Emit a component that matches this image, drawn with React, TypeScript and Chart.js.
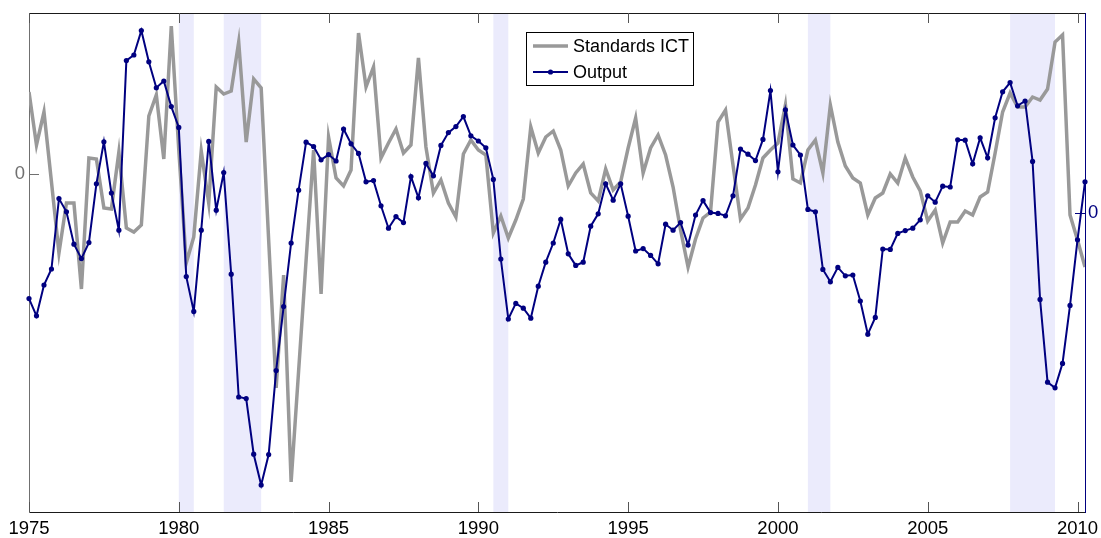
import React, { useEffect, useRef } from "react";
import { Chart, registerables } from "chart.js";

Chart.register(...registerables);

// ---- data ----
const START_YEAR = 1975;
const QUARTER = 0.25;

const standardsICT = [
  8.2, 2.9, 6.2, -0.8, -7.9, -2.9, -2.9, -11.5, 1.6, 1.5,
  -3.4, -3.5, 2.2, -5.4, -5.8, -5.1, 5.8, 7.9, 1.5, 14.8,
  2.4, -8.9, -6.3, 2.3, -2.9, 8.7, 8.0, 8.3, 13.2, 3.2,
  9.5, 8.6, -6.6, -21.4, -10.1, -30.8, -19.7, -8.6, 2.4, -12.0,
  3.7, -0.4, -1.2, 0.4, 14.1, 8.7, 10.7, 1.6, 3.1, 4.5,
  2.1, 2.9, 11.6, 2.7, -1.9, -0.6, -2.9, -4.3, 2.0, 3.4,
  2.4, 1.9, -5.9, -4.2, -6.4, -4.6, -2.5, 4.7, 2.1, 3.7,
  4.3, 2.4, -1.2, 0.1, 1.0, -1.9, -2.7, 0.5, -1.6, -0.8,
  2.6, 5.6, 0.1, 2.6, 3.9, 1.9, -1.3, -5.6, -9.3, -6.5,
  -4.4, -3.8, 5.2, 6.4, 0.9, -4.5, -3.4, -1.1, 1.6, 2.4,
  3.1, 6.9, -0.5, -0.9, 2.4, 3.4, 0.1, 6.9, 3.2, 0.8,
  -0.4, -0.9, -4.1, -2.4, -1.9, 0.0, -0.9, 1.6, -0.3, -1.7,
  -4.7, -3.6, -6.9, -4.8, -4.8, -3.7, -4.1, -2.3, -1.8, 2.1,
  6.2, 8.1, 6.7, 6.7, 7.7, 7.4, 8.5, 13.2, 13.9, -4.1,
  -6.6, -9.3,
];

const output = [
  -2.14, -2.57, -1.8, -1.4, 0.36, 0.03, -0.78, -1.14, -0.74, 0.73,
  1.78, 0.5, -0.43, 3.81, 3.95, 4.56, 3.78, 3.13, 3.3, 2.66,
  2.14, -1.59, -2.46, -0.43, 1.79, 0.07, 1.01, -1.53, -4.6, -4.64,
  -6.03, -6.8, -6.04, -3.94, -2.34, -0.75, 0.57, 1.77, 1.66, 1.33,
  1.46, 1.3, 2.1, 1.73, 1.49, 0.78, 0.81, 0.18, -0.38, -0.09,
  -0.24, 0.91, 0.38, 1.24, 0.93, 1.69, 2.01, 2.16, 2.41, 1.93,
  1.8, 1.63, 0.84, -1.15, -2.65, -2.26, -2.38, -2.63, -1.83, -1.23,
  -0.75, -0.16, -1.02, -1.31, -1.23, -0.33, -0.02, 0.73, 0.32, 0.73,
  -0.08, -0.95, -0.89, -1.06, -1.27, -0.28, -0.43, -0.24, -0.8, -0.05,
  0.31, 0.01, -0.01, -0.07, 0.43, 1.6, 1.47, 1.31, 1.84, 3.06,
  1.03, 2.58, 1.7, 1.45, 0.09, 0.03, -1.41, -1.72, -1.36, -1.57,
  -1.55, -2.2, -3.03, -2.61, -0.9, -0.91, -0.51, -0.44, -0.38, -0.17,
  0.43, 0.27, 0.67, 0.65, 1.83, 1.82, 1.23, 1.88, 1.38, 2.38,
  3.03, 3.26, 2.68, 2.8, 1.29, -2.16, -4.23, -4.37, -3.76, -2.31,
  -0.67, 0.78,
];

const recessionStart = [1980.0, 1981.5, 1990.5, 2001.0, 2007.75];
const recessionEnd = [1980.5, 1982.75, 1991.0, 2001.75, 2009.25];

const xTickYears = [1975, 1980, 1985, 1990, 1995, 2000, 2005, 2010];
const leftTicks = [0];
const rightTicks = [0];

const X_MIN = 1975;
const X_MAX = 2010.25;
const LEFT_MIN = -33.8;
const LEFT_MAX = 16.1;
const RIGHT_MIN = -7.475;
const RIGHT_MAX = 5.0;

// ---- styles ----
const FONT = "'Liberation Sans', Arial, Helvetica, sans-serif";
const FONT_SIZE = 18.5;
const LEGEND_FONT_SIZE = 18;
const GRAY = "#999999";
const NAVY = "#000080";
const X_AXIS_COLOR = "#1a1a1a";
const LEFT_AXIS_COLOR = "#707070";
const BAND_COLOR = "#ebebfc";
const TICK_LEN = 10;

const decorPlugin = {
  id: "decor",
  beforeDatasetsDraw(chart: any) {
    const { ctx, chartArea, scales } = chart;
    const x = scales.x;
    ctx.save();
    ctx.fillStyle = BAND_COLOR;
    for (let i = 0; i < recessionStart.length; i++) {
      const a = x.getPixelForValue(recessionStart[i]);
      const b = x.getPixelForValue(recessionEnd[i]);
      ctx.fillRect(a, chartArea.top, b - a, chartArea.bottom - chartArea.top);
    }
    ctx.restore();
  },
  afterDatasetsDraw(chart: any) {
    const { ctx, chartArea, scales } = chart;
    const { left, right, top, bottom } = chartArea;
    ctx.save();
    ctx.lineWidth = 1;
    // top border
    ctx.strokeStyle = X_AXIS_COLOR;
    ctx.beginPath();
    ctx.moveTo(left, top + 0.5);
    ctx.lineTo(right, top + 0.5);
    ctx.stroke();
    // x ticks (inward, top and bottom)
    ctx.strokeStyle = "#555";
    for (const v of xTickYears) {
      const px = Math.round(scales.x.getPixelForValue(v)) + 0.5;
      ctx.beginPath();
      ctx.moveTo(px, bottom);
      ctx.lineTo(px, bottom - TICK_LEN);
      ctx.moveTo(px, top);
      ctx.lineTo(px, top + TICK_LEN);
      ctx.stroke();
    }
    // left ticks
    ctx.strokeStyle = LEFT_AXIS_COLOR;
    for (const v of leftTicks) {
      const py = Math.round(scales.yL.getPixelForValue(v)) + 0.5;
      ctx.beginPath();
      ctx.moveTo(left, py);
      ctx.lineTo(left + TICK_LEN, py);
      ctx.stroke();
    }
    // right ticks
    ctx.strokeStyle = NAVY;
    for (const v of rightTicks) {
      const py = Math.round(scales.yR.getPixelForValue(v)) + 0.5;
      ctx.beginPath();
      ctx.moveTo(right - TICK_LEN, py);
      ctx.lineTo(right, py);
      ctx.stroke();
    }
    // legend
    const bx = 526, by = 32, bw = 167, bh = 53;
    ctx.fillStyle = "#ffffff";
    ctx.fillRect(bx, by, bw, bh);
    ctx.strokeStyle = "#000";
    ctx.strokeRect(bx + 0.5, by + 0.5, bw, bh);
    const legendOrder = [1, 0];
    legendOrder.forEach((di, row) => {
      const ds = chart.data.datasets[di];
      const cy = by + 14 + row * 26;
      ctx.strokeStyle = ds.borderColor;
      ctx.lineWidth = ds.borderWidth;
      ctx.beginPath();
      ctx.moveTo(bx + 7, cy);
      ctx.lineTo(bx + 42, cy);
      ctx.stroke();
      if (ds.pointRadius > 0) {
        ctx.fillStyle = ds.borderColor;
        ctx.beginPath();
        ctx.arc(bx + 24.5, cy, ds.pointRadius, 0, Math.PI * 2);
        ctx.fill();
      }
      ctx.fillStyle = "#000";
      ctx.font = `${LEGEND_FONT_SIZE}px ${FONT}`;
      ctx.textBaseline = "middle";
      ctx.textAlign = "left";
      ctx.fillText(ds.label, bx + 47, cy + 1);
    });
    ctx.restore();
  },
};

export default function App() {
  const canvasRef = useRef<HTMLCanvasElement | null>(null);

  useEffect(() => {
    const canvas = canvasRef.current;
    if (!canvas) return;
    const outputPts = output.map((v, i) => ({ x: START_YEAR + i * QUARTER, y: v }));
    const ictPts = standardsICT.map((v, i) => ({ x: START_YEAR + i * QUARTER, y: v }));

    const chart = new Chart(canvas, {
      type: "line",
      data: {
        datasets: [
          {
            label: "Output",
            data: outputPts,
            yAxisID: "yR",
            borderColor: NAVY,
            backgroundColor: NAVY,
            borderWidth: 2,
            pointRadius: 2.6,
            pointBackgroundColor: NAVY,
            pointBorderWidth: 0,
            tension: 0,
            order: 1,
            clip: false as any,
          },
          {
            label: "Standards ICT",
            data: ictPts,
            yAxisID: "yL",
            borderColor: GRAY,
            backgroundColor: GRAY,
            borderWidth: 3.5,
            pointRadius: 0,
            tension: 0,
            order: 2,
          },
        ],
      },
      options: {
        responsive: false,
        animation: false,
        devicePixelRatio: 1,
        layout: { padding: { top: 13, left: 0, right: 0, bottom: 0 } },
        plugins: {
          legend: { display: false },
          tooltip: { enabled: false },
          title: { display: false },
        },
        scales: {
          x: {
            type: "linear",
            min: X_MIN,
            max: X_MAX,
            grid: { display: false, drawTicks: false },
            border: { display: true, color: X_AXIS_COLOR, width: 1 },
            ticks: {
              font: { family: FONT, size: FONT_SIZE },
              color: "#000",
              padding: 6,
              autoSkip: false,
              maxRotation: 0,
              callback: (v: any) => String(v),
            },
            afterBuildTicks: (s: any) => {
              s.ticks = xTickYears.map((v) => ({ value: v }));
            },
            afterFit: (s: any) => {
              s.height = 26;
              s.paddingLeft = 0;
              s.paddingRight = 0;
            },
          },
          yL: {
            type: "linear",
            position: "left",
            min: LEFT_MIN,
            max: LEFT_MAX,
            grid: { display: false, drawTicks: false },
            border: { display: true, color: LEFT_AXIS_COLOR, width: 1 },
            ticks: {
              font: { family: FONT, size: FONT_SIZE },
              color: LEFT_AXIS_COLOR,
              padding: 4,
              callback: (v: any) => String(v),
            },
            afterBuildTicks: (s: any) => {
              s.ticks = leftTicks.map((v) => ({ value: v }));
            },
            afterFit: (s: any) => {
              s.width = 29;
              s.paddingTop = 0;
              s.paddingBottom = 0;
            },
          },
          yR: {
            type: "linear",
            position: "right",
            min: RIGHT_MIN,
            max: RIGHT_MAX,
            grid: { display: false, drawTicks: false },
            border: { display: true, color: NAVY, width: 1 },
            ticks: {
              font: { family: FONT, size: FONT_SIZE },
              color: NAVY,
              padding: 3,
              callback: (v: any) => String(v),
            },
            afterBuildTicks: (s: any) => {
              s.ticks = rightTicks.map((v) => ({ value: v }));
            },
            afterFit: (s: any) => {
              s.width = 16;
              s.paddingTop = 0;
              s.paddingBottom = 0;
            },
          },
        },
      } as any,
      plugins: [decorPlugin],
    });
    return () => chart.destroy();
  }, []);

  return (
    <canvas
      ref={canvasRef}
      width={1101}
      height={538}
      style={{ position: "fixed", left: 0, top: 0, width: 1101, height: 538, background: "#fff" }}
    />
  );
}
